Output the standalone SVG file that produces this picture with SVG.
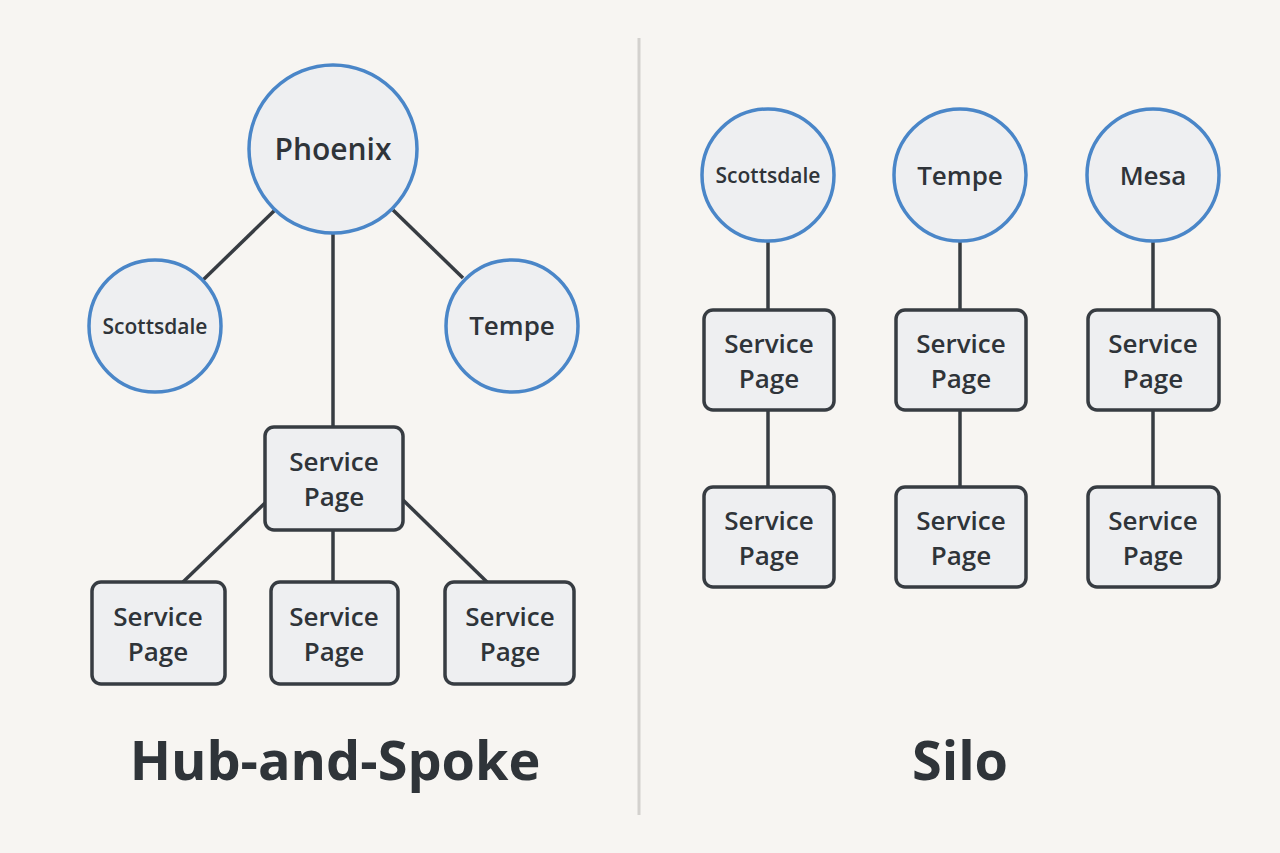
<svg xmlns="http://www.w3.org/2000/svg" width="1280" height="853" viewBox="0 0 1280 853">
<style>
.c{fill:#eeeff1;stroke:#4a86c8;stroke-width:3.5}
.r{fill:#eeeff1;stroke:#373c42;stroke-width:3.5}
.l{stroke:#373c42;stroke-width:3.5;fill:none}
text{font-family:"Open Sans","Liberation Sans",sans-serif;fill:#2f3439;text-anchor:middle;font-weight:600}
.t{font-size:26px}
.p{font-size:30px}
.s{font-size:21px}
.h{font-size:54px;font-weight:700}
</style>
<rect width="1280" height="853" fill="#f7f5f2"/>
<line x1="639" y1="38" x2="639" y2="815" stroke="#d3d1ce" stroke-width="3"/>
<g id="connectors" class="l">
<line x1="275" y1="210" x2="203" y2="280"/>
<line x1="393" y1="210" x2="463" y2="278"/>
<line x1="333" y1="233" x2="333" y2="427"/>
<line x1="265" y1="503" x2="183" y2="582"/>
<line x1="333" y1="530" x2="333" y2="582"/>
<line x1="403" y1="500" x2="487" y2="582"/>
<line x1="768" y1="241" x2="768" y2="310"/><line x1="768" y1="410" x2="768" y2="487"/>
<line x1="960" y1="241" x2="960" y2="310"/><line x1="960" y1="410" x2="960" y2="487"/>
<line x1="1153" y1="241" x2="1153" y2="310"/><line x1="1153" y1="410" x2="1153" y2="487"/>
</g>
<g id="phoenix"><circle class="c" cx="333" cy="149" r="84"/><text class="p" x="333" y="160">Phoenix</text></g>
<g id="scottsdale"><circle class="c" cx="155" cy="326" r="66"/><text class="s" x="155" y="334">Scottsdale</text></g>
<g id="tempe"><circle class="c" cx="512" cy="326" r="66"/><text class="t" x="512" y="335">Tempe</text></g>
<g id="hub-service"><rect class="r" x="265" y="427" width="138" height="103" rx="9"/><text class="t" x="334" y="471">Service</text><text class="t" x="334" y="506">Page</text></g>
<g id="sp1"><rect class="r" x="92" y="582" width="133" height="102" rx="9"/><text class="t" x="158" y="626">Service</text><text class="t" x="158" y="661">Page</text></g>
<g id="sp2"><rect class="r" x="271" y="582" width="127" height="102" rx="9"/><text class="t" x="334" y="626">Service</text><text class="t" x="334" y="661">Page</text></g>
<g id="sp3"><rect class="r" x="445" y="582" width="129" height="102" rx="9"/><text class="t" x="510" y="626">Service</text><text class="t" x="510" y="661">Page</text></g>
<g id="s-scottsdale"><circle class="c" cx="768" cy="175" r="66"/><text class="s" x="768" y="183">Scottsdale</text></g>
<g id="s-tempe"><circle class="c" cx="960" cy="175" r="66"/><text class="t" x="960" y="185">Tempe</text></g>
<g id="s-mesa"><circle class="c" cx="1153" cy="175" r="66"/><text class="t" x="1153" y="185">Mesa</text></g>
<g id="s1a"><rect class="r" x="704" y="310" width="130" height="100" rx="9"/><text class="t" x="769" y="353">Service</text><text class="t" x="769" y="388">Page</text></g>
<g id="s2a"><rect class="r" x="896" y="310" width="130" height="100" rx="9"/><text class="t" x="961" y="353">Service</text><text class="t" x="961" y="388">Page</text></g>
<g id="s3a"><rect class="r" x="1088" y="310" width="131" height="100" rx="9"/><text class="t" x="1153" y="353">Service</text><text class="t" x="1153" y="388">Page</text></g>
<g id="s1b"><rect class="r" x="704" y="487" width="130" height="100" rx="9"/><text class="t" x="769" y="530">Service</text><text class="t" x="769" y="565">Page</text></g>
<g id="s2b"><rect class="r" x="896" y="487" width="130" height="100" rx="9"/><text class="t" x="961" y="530">Service</text><text class="t" x="961" y="565">Page</text></g>
<g id="s3b"><rect class="r" x="1088" y="487" width="131" height="100" rx="9"/><text class="t" x="1153" y="530">Service</text><text class="t" x="1153" y="565">Page</text></g>
<text class="h" x="335" y="780">Hub-and-Spoke</text>
<text class="h" x="960" y="780">Silo</text>
</svg>
